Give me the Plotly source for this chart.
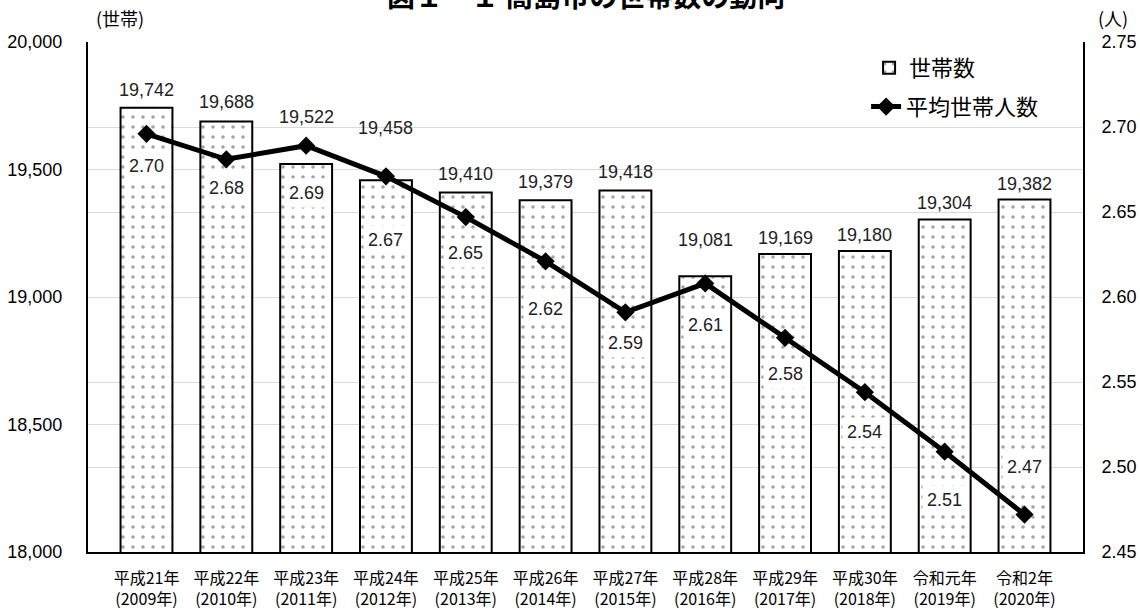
import plotly.graph_objects as go

# ---- data ----
era_labels = ["平成21年", "平成22年", "平成23年", "平成24年", "平成25年", "平成26年",
              "平成27年", "平成28年", "平成29年", "平成30年", "令和元年", "令和2年"]
year_labels = ["(2009年)", "(2010年)", "(2011年)", "(2012年)", "(2013年)", "(2014年)",
               "(2015年)", "(2016年)", "(2017年)", "(2018年)", "(2019年)", "(2020年)"]
households = [19742, 19688, 19522, 19458, 19410, 19379, 19418, 19081, 19169, 19180, 19304, 19382]
avg_size = [2.696, 2.681, 2.689, 2.671, 2.647, 2.621, 2.591, 2.608, 2.576, 2.544, 2.509, 2.472]

# label placement (pixels) -- styling only
line_label_offsets = [32, 29, 47, 64, 36, 48, 31, 42, 36, 40, 48, -48]   # below marker
bar_label_offsets = [6, 8, 35, 40, 6, 6, 6, 24, 4, 4, 4, 4]              # gap above bar top

categories = [f"{a}<br>{b}" for a, b in zip(era_labels, year_labels)]

JP = "Noto Sans CJK JP"
NUM = "Liberation Sans"

fig = go.Figure()

fig.add_trace(go.Bar(
    x=categories, y=households, name="世帯数", yaxis="y",
    marker=dict(color="white",
                pattern=dict(shape=".", fgcolor="#444444", bgcolor="white", size=10, solidity=0.1),
                line=dict(color="black", width=2)),
    legend="legend",
))

fig.add_trace(go.Scatter(
    x=categories, y=avg_size, name="平均世帯人数", yaxis="y2",
    mode="lines+markers",
    line=dict(color="black", width=5),
    marker=dict(symbol="diamond", size=14, color="black"),
    legend="legend2",
))

annotations = []
for c, v, off in zip(categories, households, bar_label_offsets):
    annotations.append(dict(
        x=c, y=v, xref="x", yref="y", text=f"{v:,}", showarrow=False,
        yanchor="bottom", yshift=off,
        font=dict(family=NUM, size=18, color="#222222"),
    ))
for c, v, off in zip(categories, avg_size, line_label_offsets):
    annotations.append(dict(
        x=c, y=v, xref="x", yref="y2", text=f"{v:.2f}", showarrow=False,
        yshift=-off, bgcolor="white", borderpad=4,
        font=dict(family=NUM, size=18, color="#222222"),
    ))

# title (partially cut at top as in reference)
annotations.append(dict(
    x=0.5, y=1, xref="paper", yref="paper", yanchor="middle", yshift=47,
    text="<b>図１－１ 高島市の世帯数の動向</b>", showarrow=False,
    font=dict(family=JP, size=28, color="black"),
))
annotations.append(dict(
    x=0, y=1, xref="paper", yref="paper", xanchor="center", yanchor="middle", xshift=32, yshift=24,
    text="(世帯)", showarrow=False, font=dict(family=JP, size=18, color="black"),
))
annotations.append(dict(
    x=1, y=1, xref="paper", yref="paper", xanchor="center", yanchor="middle", xshift=30, yshift=24,
    text="(人)", showarrow=False, font=dict(family=JP, size=18, color="black"),
))

fig.update_layout(
    width=1140, height=610,
    margin=dict(l=88, r=57, t=42, b=58, autoexpand=False),
    paper_bgcolor="white", plot_bgcolor="white",
    bargap=0.35,
    xaxis=dict(showline=True, linecolor="black", linewidth=2, ticks="", automargin=False,
               tickfont=dict(family=JP, size=16, color="black"), ticklabelstandoff=11),
    yaxis=dict(range=[18000, 20000], dtick=500, tickformat=",", showline=True, automargin=False,
               linecolor="black", linewidth=2, showgrid=True, gridcolor="#d9d9d9", gridwidth=1,
               zeroline=False, ticks="", ticklabelstandoff=20,
               tickfont=dict(family=NUM, size=18, color="black")),
    yaxis2=dict(range=[2.45, 2.75], dtick=0.05, tickformat=".2f", overlaying="y", side="right",
                showline=True, linecolor="black", linewidth=2, showgrid=True, gridcolor="#d9d9d9",
                gridwidth=1, zeroline=False, ticks="", ticklabelstandoff=13, automargin=False,
                tickfont=dict(family=NUM, size=18, color="black")),
    legend=dict(x=0.785, y=0.949, xanchor="left", yanchor="middle", bgcolor="rgba(0,0,0,0)",
                font=dict(family=JP, size=22, color="black")),
    legend2=dict(x=0.782, y=0.873, xanchor="left", yanchor="middle", bgcolor="rgba(0,0,0,0)",
                 font=dict(family=JP, size=22, color="black")),
    annotations=annotations,
    showlegend=True,
)

fig.write_html("out.html", config={"displayModeBar": False},
               post_script="document.body.style.margin='0px';")
